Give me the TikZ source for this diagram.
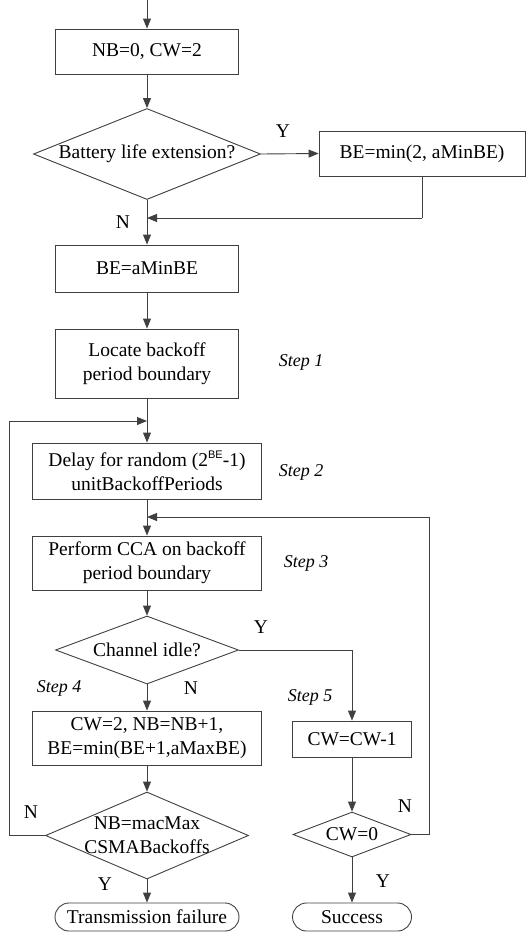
\documentclass[tikz,border=0pt]{standalone}
\usepackage{fontspec}
\setmainfont{Liberation Serif}
\newfontfamily\supfont{Liberation Sans}
\usetikzlibrary{shapes.geometric,arrows.meta}
\tikzset{
 base/.style={draw=black!75, line width=0.9pt, inner sep=0pt, align=center, font=\fontsize{19.5}{24}\selectfont},
 box/.style={base, rectangle},
 dec/.style={base, diamond, label={[lab,align=center]center:#1}},
 term/.style={base, rectangle, rounded corners=14pt},
 lab/.style={inner sep=0pt, font=\fontsize{19.5}{24}\selectfont},
 steplab/.style={inner sep=0pt, font=\fontsize{18}{22}\selectfont\itshape},
 arr/.style={draw=black!75, line width=0.9pt, -{Triangle[length=10pt,width=8pt]}},
 ln/.style={draw=black!75, line width=0.9pt},
}
\begin{document}
\begin{tikzpicture}[x=1pt,y=-1pt]
\useasboundingbox (0,0) rectangle (529,935);
% nodes
\coordinate (start) at (147,0);
\node[box, minimum width=183pt, minimum height=45pt] (b1) at (147,51.5) {NB=0, CW=2};
\node[dec={Battery life extension?}, minimum width=227pt, minimum height=91pt] (d1) at (147,154) {};
\node[box, minimum width=206pt, minimum height=45pt] (b2) at (422,153.5) {BE=min(2, aMinBE)};
\coordinate (m1) at (147,218);
\coordinate (r1) at (422,218);
\node[box, minimum width=183pt, minimum height=47pt] (b3) at (147,268.5) {BE=aMinBE};
\node[box, minimum width=183pt, minimum height=69pt] (b4) at (147,363.5) {Locate backoff\\period boundary};
\coordinate (m2) at (147,421);
\node[box, minimum width=229pt, minimum height=56pt] (b5) at (147,471) {Delay for random (2\raisebox{8pt}{\supfont\fontsize{11}{11}\selectfont BE}-1)\\unitBackoffPeriods};
\coordinate (m3) at (147,517);
\node[box, minimum width=229pt, minimum height=54pt] (b6) at (147,563) {Perform CCA on backoff\\period boundary};
\node[dec={Channel idle?}, minimum width=183pt, minimum height=68pt] (d2) at (147,650) {};
\node[box, minimum width=229pt, minimum height=54pt] (b8) at (147,738) {CW=2, NB=NB+1,\\BE=min(BE+1,aMaxBE)};
\node[box, minimum width=119pt, minimum height=36pt] (b7) at (352,739) {CW=CW-1};
\node[dec={NB=macMax\\CSMABackoffs}, minimum width=203pt, minimum height=87pt] (d3) at (147,835.5) {};
\node[dec={CW=0}, minimum width=118pt, minimum height=45pt] (d4) at (352,834.5) {};
\node[term, minimum width=184pt, minimum height=28pt] (t1) at (147,917) {Transmission failure};
\node[term, minimum width=119pt, minimum height=28pt] (t2) at (352,917) {Success};
\coordinate (l1) at (9,835.5);
\coordinate (l2) at (429,834.5);
% labels
\node[lab] (y1) at (283,131) {Y};
\node[lab] (n1) at (123,222) {N};
\node[steplab] (s1) at (301,362) {Step 1};
\node[steplab] (s2) at (301,472) {Step 2};
\node[steplab] (s3) at (306,563) {Step 3};
\node[lab] (y2) at (261,627) {Y};
\node[steplab] (s4) at (59,688) {Step 4};
\node[lab] (n2) at (191,688) {N};
\node[steplab] (s5) at (310,697) {Step 5};
\node[lab] (n3) at (405,806) {N};
\node[lab] (n4) at (31,812) {N};
\node[lab] (y3) at (105,884) {Y};
\node[lab] (y4) at (383,881) {Y};
% connectors
\draw[arr] (start) -- (b1.north);
\draw[arr] (b1.south) -- (d1.north);
\draw[arr] (d1.east) -- (b2.west);
\draw[ln] (b2.south) -- (r1);
\draw[arr] (r1) -- (m1);
\draw[arr] (d1.south) -- (b3.north);
\draw[arr] (b3.south) -- (b4.north);
\draw[arr] (b4.south) -- (b5.north);
\draw[arr] (b5.south) -- (b6.north);
\draw[arr] (b6.south) -- (d2.north);
\draw[arr] (d2.south) -- (b8.north);
\draw[arr] (d2.east) -| (b7.north);
\draw[arr] (b8.south) -- (d3.north);
\draw[arr] (b7.south) -- (d4.north);
\draw[arr] (d3.south) -- (t1.north);
\draw[arr] (d4.south) -- (t2.north);
\draw[arr] (d3.west) -- (l1) |- (m2);
\draw[arr] (d4.east) -- (l2) |- (m3);
\end{tikzpicture}
\end{document}
